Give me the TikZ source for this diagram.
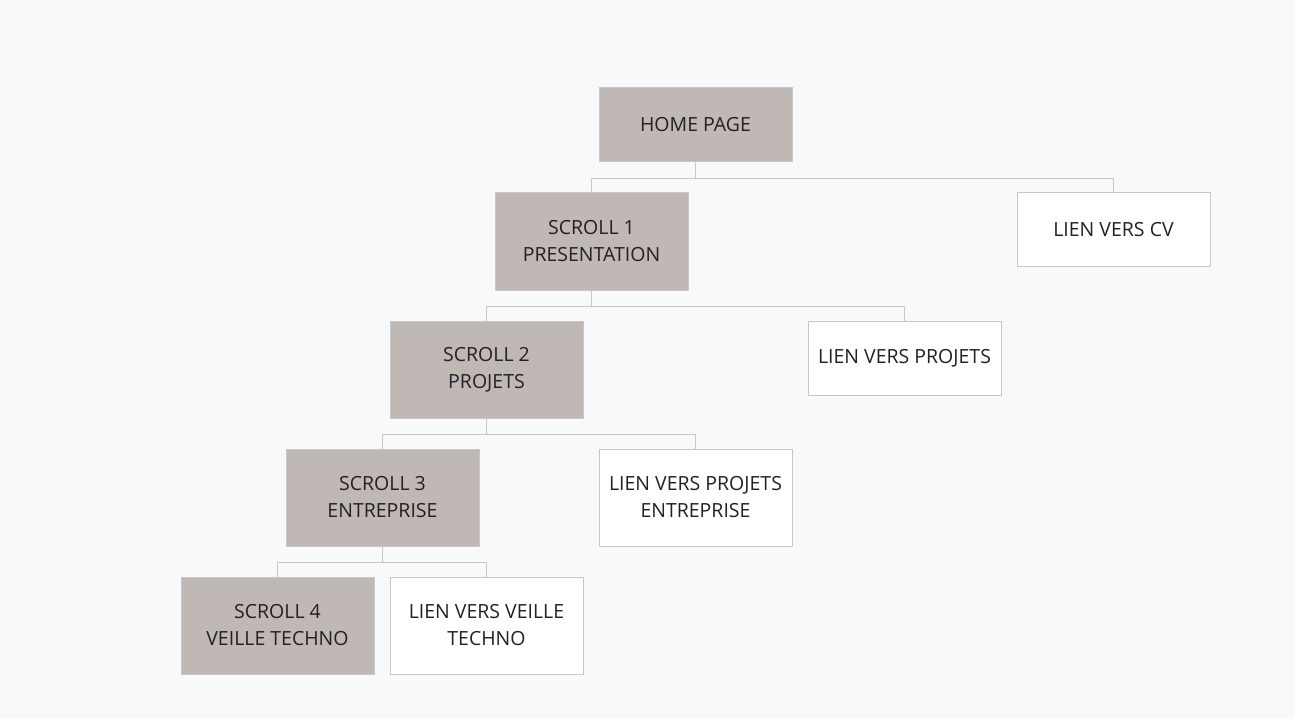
\documentclass[tikz,border=0pt]{standalone}
\usepackage{fontspec}
\setmainfont{Open Sans}
\definecolor{bg}{HTML}{F8F9FB}
\definecolor{boxgray}{HTML}{BFB8B5}
\definecolor{edge}{HTML}{C8C8C8}
\definecolor{txt}{HTML}{222222}
\tikzset{
  base/.style={draw=edge, line width=1pt, minimum width=193pt, inner sep=0pt, align=center,
    text=txt, font=\fontsize{19.5}{27}\selectfont},
  scrollbox/.style={base, fill=boxgray, minimum height=97pt},
  homebox/.style={base, fill=boxgray, minimum height=74pt},
  linkbox/.style={base, fill=white, minimum height=74pt},
  linkboxtall/.style={base, fill=white, minimum height=97pt},
  conn/.style={draw=edge, line width=1pt}
}
\begin{document}
\begin{tikzpicture}[x=1pt,y=-1pt]
\fill[bg] (0,0) rectangle (1295,719);
\useasboundingbox (0,0) rectangle (1295,719);
\node[homebox] (home) at (695.5,125) {HOME PAGE};
\node[scrollbox] (s1) at (591.5,241.5) {SCROLL 1\\PRESENTATION};
\node[linkbox] (cv) at (1113.5,230) {LIEN VERS CV};
\node[scrollbox] (s2) at (486.5,369.5) {SCROLL 2\\PROJETS};
\node[linkbox] (proj) at (904.5,358) {LIEN VERS PROJETS};
\node[scrollbox] (s3) at (382.5,497.5) {SCROLL 3\\ENTREPRISE};
\node[linkboxtall] (pent) at (695.5,497.5) {LIEN VERS PROJETS\\ENTREPRISE};
\node[scrollbox] (s4) at (277.5,625.5) {SCROLL 4\\VEILLE TECHNO};
\node[linkboxtall] (veille) at (486.5,625.5) {LIEN VERS VEILLE\\TECHNO};
\draw[conn] (home.south) -- ++(0,16) -| (s1.north);
\draw[conn] (home.south) ++(0,16) -| (cv.north);
\draw[conn] (s1.south) -- ++(0,16) -| (s2.north);
\draw[conn] (s1.south) ++(0,16) -| (proj.north);
\draw[conn] (s2.south) -- ++(0,16) -| (s3.north);
\draw[conn] (s2.south) ++(0,16) -| (pent.north);
\draw[conn] (s3.south) -- ++(0,16) -| (s4.north);
\draw[conn] (s3.south) ++(0,16) -| (veille.north);
\end{tikzpicture}
\end{document}
